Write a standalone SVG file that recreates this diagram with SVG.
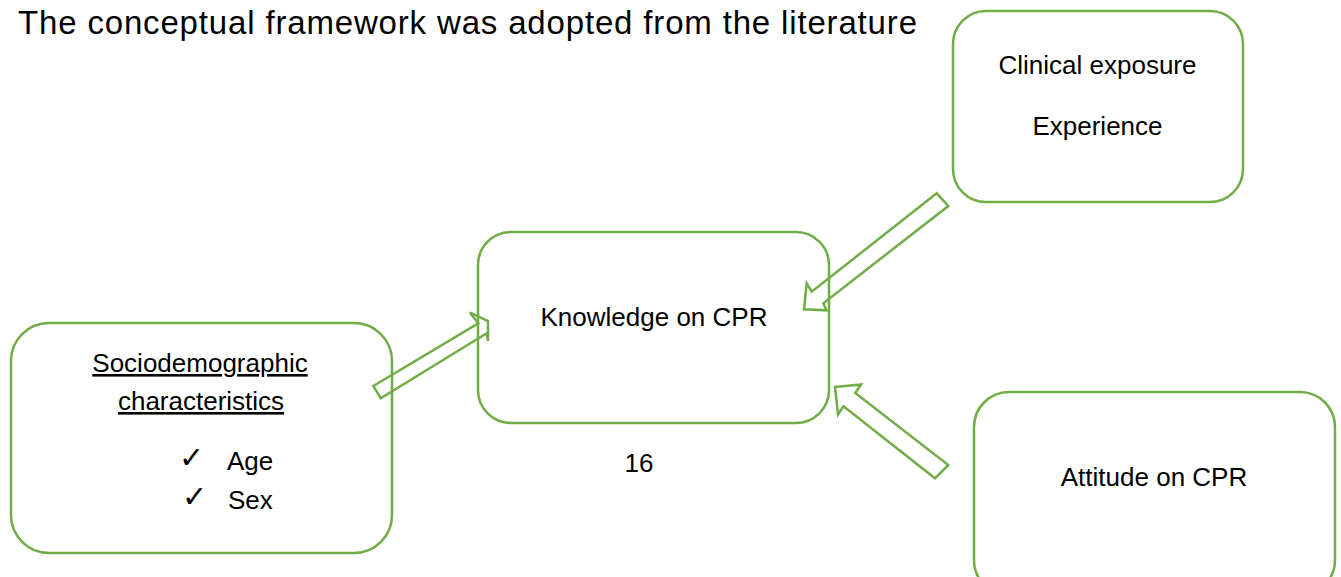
<svg xmlns="http://www.w3.org/2000/svg" width="1341" height="577" viewBox="0 0 1341 577">
  <style>
    .box { fill: #FFFFFF; stroke: #70AD47; stroke-width: 2.5; }
    .arrow { fill: none; stroke: #70AD47; stroke-width: 2.5; stroke-linejoin: miter; }
    .t { font-family: "Liberation Sans", Arial, sans-serif; font-size: 26px; fill: #000000; }
    .c { text-anchor: middle; }
    .chk { font-family: "DejaVu Sans", sans-serif; font-size: 30px; fill: #000000; }
  </style>
  <rect width="1341" height="577" fill="#FFFFFF"/>
  <text id="title" class="t" x="18" y="34" style="font-size:33px" textLength="899" lengthAdjust="spacing">The conceptual framework was adopted from the literature</text>

  <g id="node-socio">
    <rect class="box" x="11" y="323" width="381" height="230" rx="38" ry="38"/>
    <text class="t c" x="200" y="372" text-decoration="underline">Sociodemographic</text>
    <text class="t c" x="201" y="410" text-decoration="underline">characteristics</text>
    <text class="chk" x="179" y="468">✓</text>
    <text class="t" x="227" y="470">Age</text>
    <text class="chk" x="182" y="507">✓</text>
    <text class="t" x="228" y="509">Sex</text>
  </g>

  <g id="node-knowledge">
    <rect class="box" x="478" y="232" width="351" height="191" rx="33" ry="33"/>
    <text class="t c" x="654" y="326">Knowledge on CPR</text>
  </g>

  <g id="node-clinical">
    <rect class="box" x="953" y="11" width="290" height="191" rx="33" ry="33"/>
    <text class="t c" x="1097.5" y="74">Clinical exposure</text>
    <text class="t c" x="1097.5" y="135">Experience</text>
  </g>

  <g id="node-attitude">
    <rect class="box" x="974" y="392" width="361" height="203" rx="35" ry="35"/>
    <text class="t c" x="1154" y="486">Attitude on CPR</text>
  </g>

  <text id="page-number" class="t c" x="639" y="472">16</text>

  <g id="connectors">
    <polygon class="arrow" points="373.3,386 478.3,323.3 470,312.7 488,321 488,341 486.7,333.3 380.7,398.3"/>
    <polygon class="arrow" points="936.7,193.3 811.7,291.7 806.7,283.3 804,309.3 826.5,310.3 823.3,303.3 948.3,206"/>
    <polygon class="arrow" points="835,387 861,384.5 855.3,393 948.3,465 935,478.3 843.5,406.3 838,414.5"/>
  </g>
</svg>
